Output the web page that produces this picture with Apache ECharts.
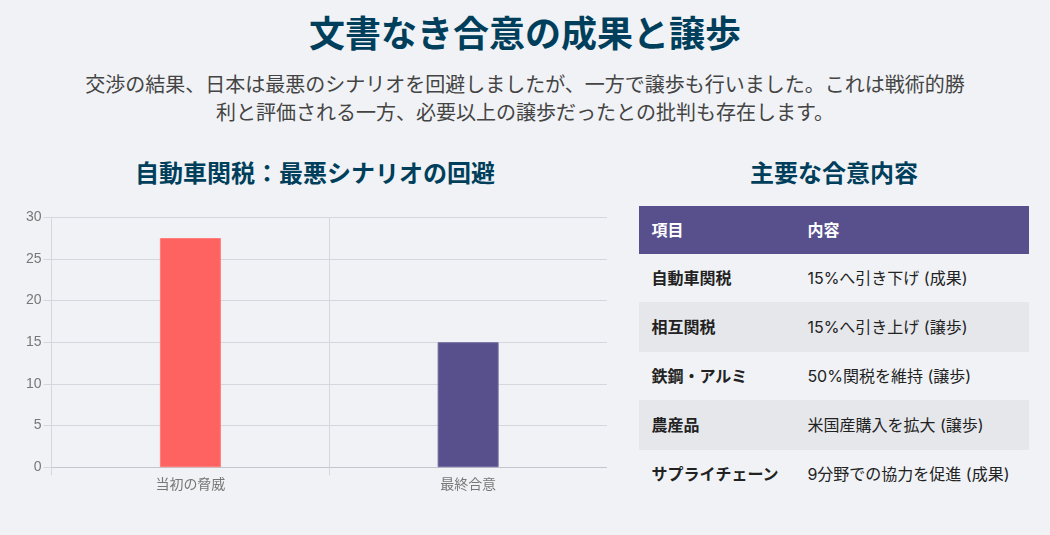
<!DOCTYPE html>
<html lang="ja">
<head>
<meta charset="utf-8">
<style>
html,body{margin:0;padding:0;width:1050px;height:535px;overflow:hidden;background:#f0f2f5;font-family:Inter,"Noto Sans CJK JP",sans-serif;}
.t{position:absolute;text-align:center;white-space:nowrap;margin:0;}
#title{left:0;width:1050px;top:8px;font-size:36px;line-height:52px;font-weight:700;color:#003f5c;}
#sub{left:0;width:1050px;top:71px;font-size:20px;line-height:28px;color:#444;}
#h1{left:0;width:630px;top:156px;font-size:24px;line-height:36px;font-weight:700;color:#003f5c;}
#h2{left:639px;width:390px;top:156px;font-size:24px;line-height:36px;font-weight:700;color:#003f5c;}
#chart{position:absolute;left:0;top:200px;width:607px;height:300px;overflow:hidden;}
#tbl{position:absolute;left:639px;top:206px;width:390px;border-collapse:collapse;table-layout:fixed;font-size:16px;color:#222;}
#tbl th,#tbl td{padding:0 0 2px 12.4px;box-sizing:border-box;text-align:left;white-space:nowrap;height:48px;}
#tbl th{background:#58508d;color:#fff;font-weight:700;}
#tbl td:first-child{font-weight:700;}
#tbl tr:nth-child(even) td{background:#e6e7eb;height:50px;}
</style>
</head>
<body>
<h1 class="t" id="title"></h1>
<p class="t" id="sub"></p>
<h2 class="t" id="h1"></h2>
<div id="chart"></div>
<h2 class="t" id="h2"></h2>
<table id="tbl"><colgroup><col style="width:156px"><col></colgroup><thead></thead><tbody></tbody></table>
<script src="https://cdn.jsdelivr.net/npm/echarts@6/dist/echarts.min.js"></script>
<script>
const pageTitle = "文書なき合意の成果と譲歩";
const subtitleLines = ["交渉の結果、日本は最悪のシナリオを回避しましたが、一方で譲歩も行いました。これは戦術的勝", "利と評価される一方、必要以上の譲歩だったとの批判も存在します。"];
const chartTitle = "自動車関税：最悪シナリオの回避";
const tableTitle = "主要な合意内容";
const categories = ["当初の脅威", "最終合意"];
const values = [27.5, 15];
const barColors = ["#ff6361", "#58508d"];
const barEdges = ["#ff7c7a", "#7069a0"];
const tableHeader = ["項目", "内容"];
const tableItems = ["自動車関税", "相互関税", "鉄鋼・アルミ", "農産品", "サプライチェーン"];
const tableContents = ["15%へ引き下げ (成果)", "15%へ引き上げ (譲歩)", "50%関税を維持 (譲歩)", "米国産購入を拡大 (譲歩)", "9分野での協力を促進 (成果)"];

document.getElementById("title").textContent = pageTitle;
document.getElementById("sub").innerHTML = subtitleLines.join("<br>");
document.getElementById("h1").textContent = chartTitle;
document.getElementById("h2").textContent = tableTitle;
document.querySelector("#tbl thead").innerHTML = "<tr>" + tableHeader.map(h => "<th>" + h + "</th>").join("") + "</tr>";
document.querySelector("#tbl tbody").innerHTML = tableItems.map((it, i) => "<tr><td>" + it + "</td><td>" + tableContents[i] + "</td></tr>").join("");

const lineColor = "#d6d7de";
const labelFont = 'Arial, "Liberation Sans", "Noto Sans CJK JP", sans-serif';
const chart = echarts.init(document.getElementById("chart"), null, {renderer: "canvas"});
chart.setOption({
  animation: false,
  backgroundColor: "transparent",
  grid: {left: 51.5, right: -0.5, top: 17.2, bottom: 32.8, containLabel: false},
  xAxis: {
    type: "category",
    data: categories,
    axisLine: {show: true, lineStyle: {color: "#c4c5cd", width: 1}},
    axisTick: {show: true, length: 8, alignWithLabel: false, lineStyle: {color: lineColor}},
    axisLabel: {color: "#777", fontSize: 14, fontFamily: labelFont, margin: 11},
    splitLine: {show: true, showMaxLine: false, lineStyle: {color: lineColor, width: 1}}
  },
  yAxis: {
    type: "value",
    min: 0, max: 30, interval: 5,
    axisLine: {show: true, lineStyle: {color: lineColor, width: 1}},
    axisTick: {show: true, length: 8, lineStyle: {color: lineColor}},
    axisLabel: {color: "#777", fontSize: 14, fontFamily: labelFont, margin: 10},
    splitLine: {show: true, lineStyle: {color: lineColor, width: 1}}
  },
  series: [{
    type: "bar",
    barWidth: 61,
    data: values.map((v, i) => ({value: v, itemStyle: {color: barColors[i], borderColor: barEdges[i], borderWidth: 1}}))
  }]
});
</script>
</body>
</html>
